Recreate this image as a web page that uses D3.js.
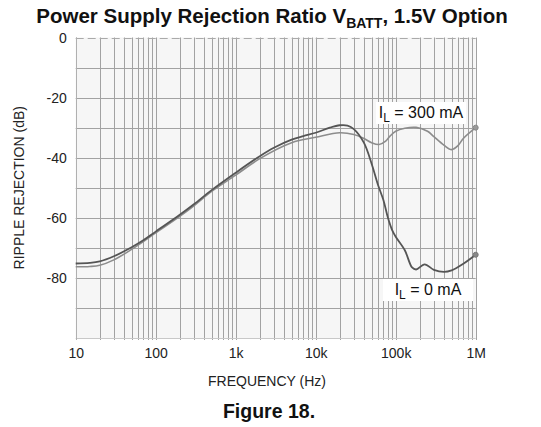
<!DOCTYPE html>
<html><head><meta charset="utf-8">
<script src="https://cdn.jsdelivr.net/npm/d3@7"></script>
<style>
body{margin:0;background:#fff;}
svg{display:block;font-family:"Liberation Sans",Arial,sans-serif;}
</style></head>
<body><svg id="c" width="541" height="427"></svg>
<script>
// Data
const freqs0 = [10,15,20,30,50,70,100,200,300,500,1000,2000,3000,5000,7000,10000,15000,20000,25000,30000,40000,50000,60000,70000,80000,90000,100000,130000,160000,180000,230000,300000,400000,500000,700000,1000000];
const ripple0mA = [-75.2,-75,-74.5,-72.8,-69.8,-67.5,-64.6,-59,-55.5,-50.8,-45,-39.5,-36.7,-34,-32.8,-31.7,-30,-29.2,-29.3,-30.5,-35,-42,-49,-54,-60,-64,-66.3,-70.8,-76.5,-77.2,-75.5,-77.3,-78,-77.5,-75.3,-72.3];
const freqs300 = [10,15,20,30,50,70,100,200,300,500,1000,2000,5000,10000,20000,30000,40000,50000,62000,75000,85000,100000,130000,180000,250000,300000,400000,500000,600000,700000,1000000];
const ripple300mA = [-76.3,-76.2,-75.8,-74,-70.5,-67.9,-65,-59.5,-56,-51.2,-45.8,-40.3,-35,-33.2,-31.7,-32.3,-33.6,-35,-35.6,-34.5,-32.8,-31.2,-30.2,-29.9,-31.2,-33,-35.8,-37.3,-36,-33.6,-30];
const xTickValues = [10,100,1000,10000,100000,1000000];
const xTickLabels = ["10","100","1k","10k","100k","1M"];
const yTickValues = [0,-20,-40,-60,-80];
const yGridValues = [0,-10,-20,-30,-40,-50,-60,-70,-80,-90,-100];

const svg = d3.select("#c");
const x = d3.scaleLog().domain([10,1e6]).range([75.7,475.7]);
const y = d3.scaleLinear().domain([-100,0]).range([338,37.5]);

// plot background
svg.append("rect").attr("x",x(10)).attr("y",y(0)).attr("width",x(1e6)-x(10)).attr("height",y(-100)-y(0)).attr("fill","#f6f6f6");

// minor vertical grid
const minor = [];
for (let d=10; d<1e6; d*=10) for (let k=1;k<10;k++) minor.push(d*k);
minor.push(1e6);
svg.append("g").selectAll("line").data(minor).join("line")
  .attr("x1",d=>Math.round(x(d))+0.5).attr("x2",d=>Math.round(x(d))+0.5)
  .attr("y1",y(0)).attr("y2",y(-100)+2)
  .attr("stroke","#a2a2a2").attr("stroke-width",1);

// horizontal grid
svg.append("g").selectAll("line").data(yGridValues.filter(v=>v!==0)).join("line")
  .attr("x1",x(10)).attr("x2",x(1e6))
  .attr("y1",d=>Math.round(y(d))+0.5).attr("y2",d=>Math.round(y(d))+0.5)
  .attr("stroke",d=>d===-100?"#c8c8c8":"#a2a2a2").attr("stroke-width",1);
// top dashed line
svg.append("line").attr("x1",x(10)).attr("x2",x(1e6)).attr("y1",Math.round(y(0))+0.5).attr("y2",Math.round(y(0))+0.5)
  .attr("stroke","#aaaaaa").attr("stroke-dasharray","8,4");
// left axis line
svg.append("line").attr("x1",Math.round(x(10))+0.5).attr("x2",Math.round(x(10))+0.5).attr("y1",y(0)).attr("y2",y(-100)+2)
  .attr("stroke","#b0b0b0");

// x axis labels
const xAxis = d3.axisBottom(x).tickValues(xTickValues).tickFormat((d,i)=>xTickLabels[i]).tickSize(0).tickPadding(0);
const gx = svg.append("g").attr("transform",`translate(0,${y(-100)})`).call(xAxis);
gx.select(".domain").remove();
gx.selectAll("text").attr("font-size",14).attr("font-family","Liberation Sans, Arial, sans-serif").attr("fill","#222").attr("dy",0).attr("y",20);

const yAxis = d3.axisLeft(y).tickValues(yTickValues).tickFormat(d=>d).tickSize(0).tickPadding(0);
const gy = svg.append("g").attr("transform",`translate(${x(10)},0)`).call(yAxis);
gy.select(".domain").remove();
gy.selectAll("text").attr("font-size",14).attr("font-family","Liberation Sans, Arial, sans-serif").attr("fill","#222").attr("x",-9).attr("dy","0.35em");

// curves
const line = d3.line().curve(d3.curveCatmullRom.alpha(0.5));
const pts0 = freqs0.map((f,i)=>[x(f),y(ripple0mA[i])]);
const pts300 = freqs300.map((f,i)=>[x(f),y(ripple300mA[i])]);
svg.append("path").attr("d",line(pts300)).attr("fill","none").attr("stroke","#8c8c8c").attr("stroke-width",1.6);
svg.append("path").attr("d",line(pts0)).attr("fill","none").attr("stroke","#555555").attr("stroke-width",1.8);
svg.append("circle").attr("cx",x(1e6)).attr("cy",y(ripple300mA[ripple300mA.length-1])).attr("r",2.5).attr("fill","#999").attr("stroke","#888");
svg.append("circle").attr("cx",x(1e6)).attr("cy",y(ripple0mA[ripple0mA.length-1])).attr("r",2.5).attr("fill","#888").attr("stroke","#777");

// labels with white boxes
function label(cx, cy, w, h, num){
  svg.append("rect").attr("x",cx-w/2).attr("y",cy-h/2).attr("width",w).attr("height",h).attr("fill","#fff");
  const t = svg.append("text").attr("x",cx).attr("y",cy+5).attr("text-anchor","middle").attr("font-size",16).attr("fill","#111");
  t.append("tspan").text("I");
  t.append("tspan").attr("font-size",12).attr("dy",4).text("L");
  t.append("tspan").attr("dy",-4).text(" = " + num + " mA");
}
label(421, 113, 90, 22, "300");
label(428, 290, 90, 22, "0");

// titles
const title = svg.append("text").attr("x",272).attr("y",23).attr("text-anchor","middle").attr("font-size",20.5).attr("font-weight","bold").attr("fill","#111");
title.append("tspan").text("Power Supply Rejection Ratio V");
title.append("tspan").attr("font-size",14).attr("dy",5).text("BATT");
title.append("tspan").attr("dy",-5).text(", 1.5V Option");

svg.append("text").attr("x",267).attr("y",386).attr("text-anchor","middle").attr("font-size",14).attr("fill","#222").text("FREQUENCY (Hz)");
svg.append("text").attr("transform",`translate(24,${(y(0)+y(-100))/2}) rotate(-90)`).attr("text-anchor","middle").attr("font-size",14).attr("fill","#222").text("RIPPLE REJECTION (dB)");
svg.append("text").attr("x",269).attr("y",418).attr("text-anchor","middle").attr("font-size",19.5).attr("font-weight","bold").attr("fill","#111").text("Figure 18.");
</script></body></html>
